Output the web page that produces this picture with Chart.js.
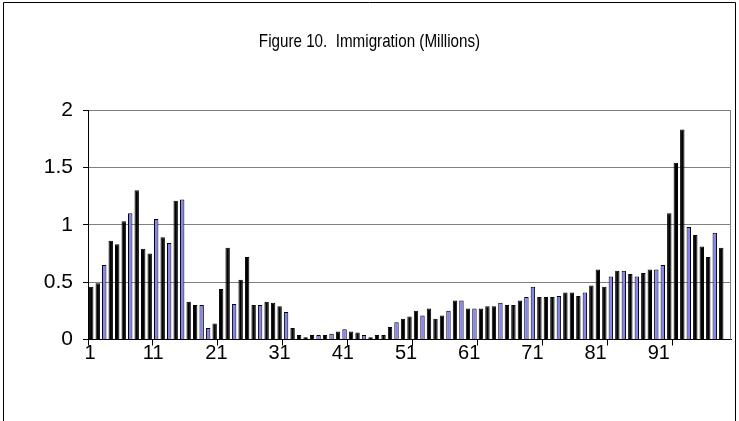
<!DOCTYPE html>
<html>
<head>
<meta charset="utf-8">
<script src="https://cdn.jsdelivr.net/npm/chart.js@4.4.1/dist/chart.umd.min.js"></script>
<style>
  html, body { margin: 0; padding: 0; background: #fff; }
  #wrap { width: 739px; height: 421px; position: relative; }
</style>
</head>
<body>
<div id="wrap"><canvas id="c" width="739" height="421"></canvas></div>
<script>
// Category numbers 1..99 along the horizontal axis
const categories = Array.from({ length: 99 }, (_, i) => String(i + 1));

// Labels shown under the axis, one every ten categories
const tickLabels = ['1', '11', '21', '31', '41', '51', '61', '71', '81', '91'];

// Immigration per category, millions (last category has no value)
const immigration = [
  0.46, 0.49, 0.65, 0.86, 0.83, 1.03, 1.10, 1.30, 0.79, 0.75,
  1.05, 0.89, 0.84, 1.21, 1.22, 0.33, 0.30, 0.30, 0.10, 0.14,
  0.44, 0.80, 0.31, 0.52, 0.72, 0.30, 0.30, 0.33, 0.32, 0.29,
  0.24, 0.10, 0.04, 0.02, 0.04, 0.04, 0.04, 0.05, 0.07, 0.09,
  0.07, 0.06, 0.04, 0.02, 0.04, 0.04, 0.11, 0.15, 0.18, 0.20,
  0.25, 0.21, 0.27, 0.18, 0.21, 0.25, 0.34, 0.34, 0.27, 0.27,
  0.27, 0.29, 0.29, 0.32, 0.30, 0.30, 0.34, 0.37, 0.46, 0.37,
  0.37, 0.37, 0.38, 0.41, 0.41, 0.38, 0.41, 0.47, 0.61, 0.46,
  0.55, 0.60, 0.60, 0.57, 0.55, 0.58, 0.61, 0.61, 0.65, 1.10,
  1.54, 1.83, 0.98, 0.91, 0.81, 0.72, 0.93, 0.80, null
];

// Bars whose pale fill shows inside the black outline
const paleBars = new Set([3, 7, 11, 13, 15, 18, 19, 23, 27, 31, 36, 38, 40, 43, 48,
  52, 56, 58, 60, 64, 68, 69, 73, 77, 81, 83, 85, 88, 89, 93, 97]);

const titleText = 'Figure 10.  Immigration (Millions)';

const FONT = "'Liberation Sans', Arial, Helvetica, sans-serif";
const GRID = '#808080';

// White page plus the thin outer frame and the grey right edge of the plot area
const framePlugin = {
  id: 'frame',
  beforeDraw(chart) {
    const c = chart.ctx;
    c.save();
    c.fillStyle = '#fff';
    c.fillRect(0, 0, chart.width, chart.height);
    c.strokeStyle = '#000';
    c.lineWidth = 1;
    c.beginPath();
    c.moveTo(3.5, chart.height);
    c.lineTo(3.5, 2.5);
    c.lineTo(735.5, 2.5);
    c.lineTo(735.5, chart.height);
    c.stroke();
    c.restore();
  },
  afterDatasetsDraw(chart) {
    const a = chart.chartArea;
    const c = chart.ctx;
    c.save();
    c.strokeStyle = GRID;
    c.lineWidth = 1;
    c.beginPath();
    const x = Math.round(a.right) - 0.5;
    c.moveTo(x, a.top);
    c.lineTo(x, a.bottom);
    c.stroke();
    c.restore();
  }
};

// Heading: a slightly condensed line of text centred over the frame
const headingPlugin = {
  id: 'heading',
  afterDraw(chart) {
    const c = chart.ctx;
    c.save();
    c.font = '19px ' + FONT;
    c.fillStyle = '#000';
    c.textAlign = 'center';
    c.textBaseline = 'alphabetic';
    c.translate(369.5, 46.5);
    c.scale(0.8, 1);
    c.fillText(titleText, 0, 0);
    c.restore();
  }
};

new Chart(document.getElementById('c'), {
  type: 'bar',
  data: {
    labels: categories,
    datasets: [{
      data: immigration,
      backgroundColor: ctx => paleBars.has(ctx.dataIndex + 1) ? '#8585f0' : '#000',
      borderColor: '#000',
      borderWidth: 1,
      barPercentage: 0.68,
      categoryPercentage: 1.0
    }]
  },
  options: {
    responsive: false,
    animation: false,
    events: [],
    layout: { padding: { left: 0, right: 8, top: 110, bottom: 51.5 } },
    plugins: {
      legend: { display: false },
      tooltip: { enabled: false },
      title: { display: false }
    },
    scales: {
      x: {
        type: 'category',
        position: 'bottom',
        offset: true,
        grid: {
          offset: true,
          drawOnChartArea: false,
          drawTicks: true,
          tickLength: 6,
          tickColor: c => (c.index !== undefined && c.index % 10 === 0) ? '#000' : 'rgba(0,0,0,0)'
        },
        border: { color: '#000', width: 1 },
        ticks: { display: false },
        afterFit: s => { s.height = 0; }
      },
      xl: {
        type: 'linear',
        position: 'bottom',
        offset: false,
        min: 0.684,
        max: 102.42,
        grid: { display: false, drawTicks: false },
        border: { display: false },
        afterBuildTicks: s => { s.ticks = tickLabels.map(t => ({ value: Number(t) })); },
        ticks: {
          autoSkip: false,
          maxRotation: 0,
          padding: 1.5,
          color: '#000',
          font: { family: FONT, size: 20 },
          callback: v => String(v)
        },
        afterFit: s => { s.height = 30; }
      },
      y: {
        min: 0,
        max: 2,
        ticks: {
          stepSize: 0.5,
          padding: 10,
          color: '#000',
          font: { family: FONT, size: 21 },
          callback: v => String(v)
        },
        grid: {
          color: c => (c.tick && c.tick.value === 0) ? 'rgba(0,0,0,0)' : GRID,
          tickColor: '#000',
          tickLength: 5,
          lineWidth: 1
        },
        border: { color: '#000', width: 1 },
        afterFit: s => { s.width = 88; }
      }
    }
  },
  plugins: [framePlugin, headingPlugin]
});
</script>
</body>
</html>
